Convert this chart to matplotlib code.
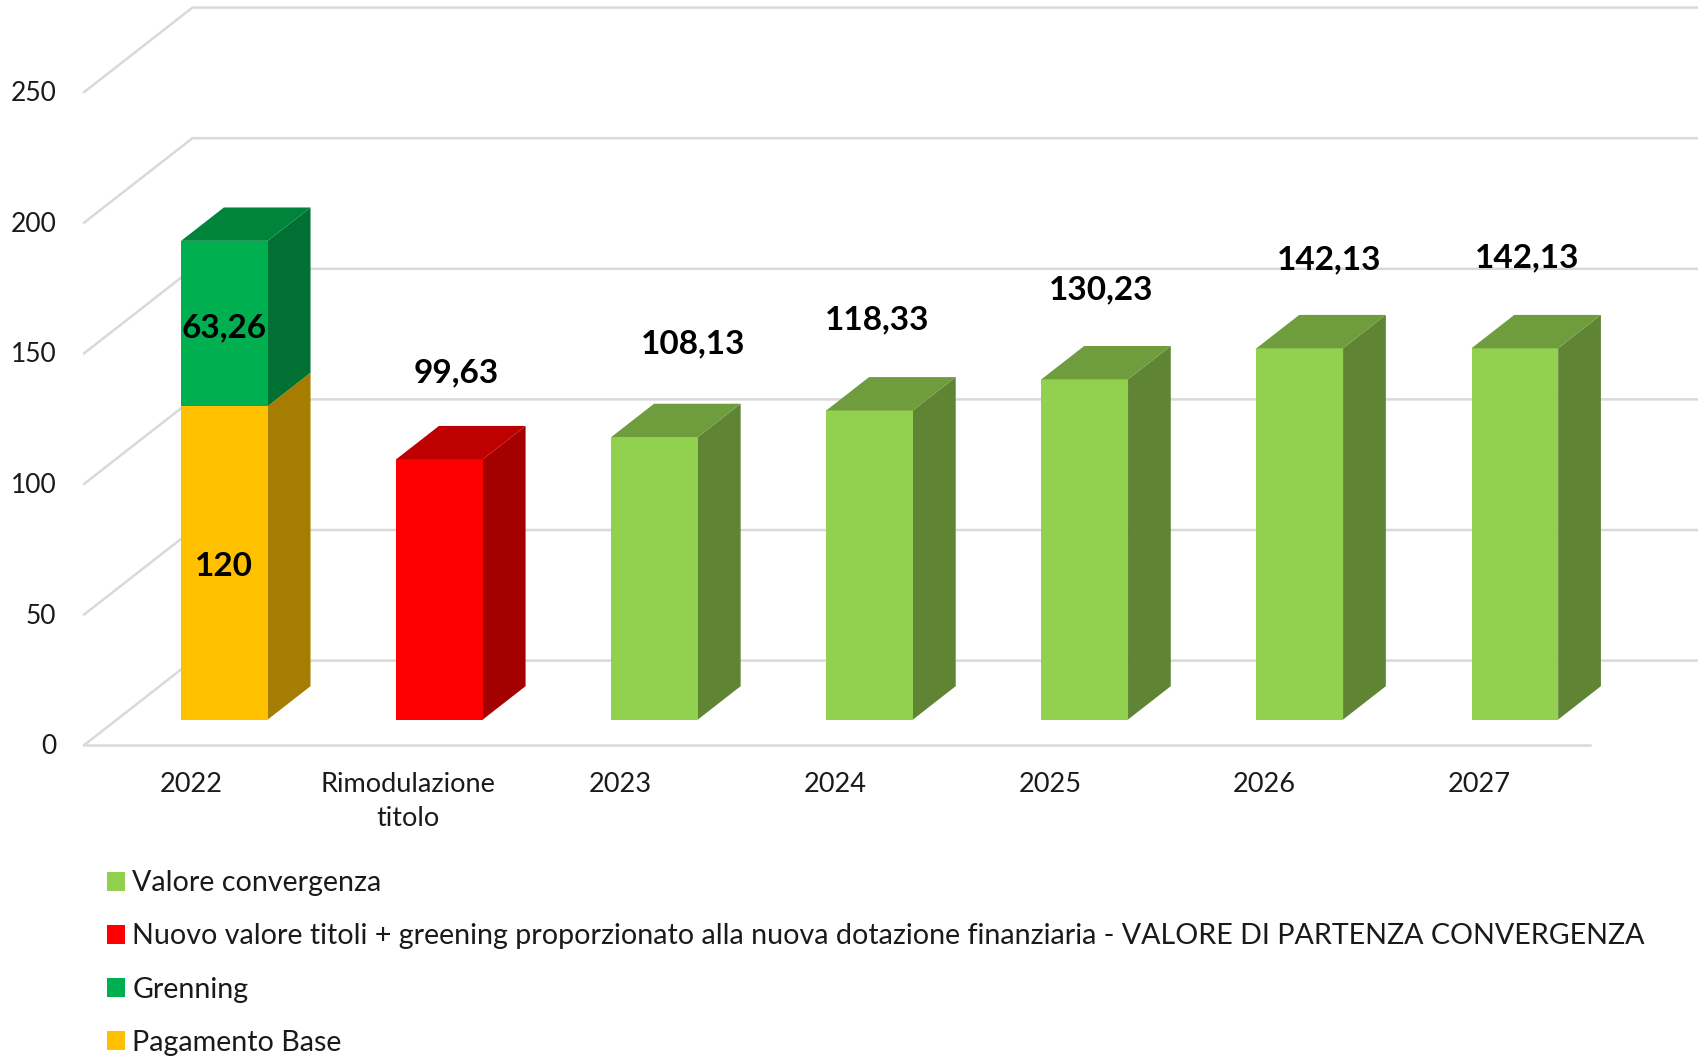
import matplotlib
matplotlib.use('Agg')
import matplotlib.pyplot as plt
from matplotlib.patches import Polygon, Patch

plt.rcParams['font.family'] = ['Lato', 'DejaVu Sans']

categorie = ['2022', 'Rimodulazione\ntitolo', '2023', '2024', '2025', '2026', '2027']
pagamento_base = [120, 0, 0, 0, 0, 0, 0]
greening = [63.26, 0, 0, 0, 0, 0, 0]
nuovo_valore = [0, 99.63, 0, 0, 0, 0, 0]
convergenza = [0, 0, 108.13, 118.33, 130.23, 142.13, 142.13]
tick_y = [0, 50, 100, 150, 200, 250]

legenda = ['Valore convergenza',
           'Nuovo valore titoli + greening proporzionato alla nuova dotazione finanziaria - VALORE DI PARTENZA CONVERGENZA',
           'Grenning',
           'Pagamento Base']

# etichette: spostamento rispetto al centro della categoria e al valore
etichette_x = [1.23, 1.332, 1.185, 1.23, 1.29, 1.21]
etichette_dy = [42.9, 45.5, 44.4, 44, 43.7, 44.3]
off_x = [0, 0.005, -0.008, -0.008, -0.01, -0.012, -0.015]

# colori: fronte, top, lato
c_base = ('#FFC000', '#FFC000', '#A67D00')
c_green = ('#00B050', '#00843C', '#007133')
c_rosso = ('#FF0000', '#BF0000', '#A50000')
c_conv = ('#92D050', '#6F9C3C', '#5F8534')

# geometria pseudo 3D: profondita' in unita' di categoria / valore
DX = 100 / 198.6
DY = 78 / 2.412
B_W = 80 / 198.6
D0 = 23.6 / 78
D1 = 54.4 / 78


def proietta(x, y, d):
    return (x + d * DX, y + d * DY)


def barra(ax, i, y0, y1, colori, top=True):
    x0 = i - 0.5 + (1 - B_W) / 2
    x1 = x0 + B_W
    fronte = [proietta(x0, y0, D0), proietta(x1, y0, D0), proietta(x1, y1, D0), proietta(x0, y1, D0)]
    lato = [proietta(x1, y0, D0), proietta(x1, y0, D1), proietta(x1, y1, D1), proietta(x1, y1, D0)]
    ax.add_patch(Polygon(lato, fc=colori[2], ec='none', zorder=3))
    ax.add_patch(Polygon(fronte, fc=colori[0], ec='none', zorder=4))
    if top:
        sopra = [proietta(x0, y1, D0), proietta(x1, y1, D0), proietta(x1, y1, D1), proietta(x0, y1, D1)]
        ax.add_patch(Polygon(sopra, fc=colori[1], ec='none', zorder=4))


fig = plt.figure(figsize=(16.98, 10.57), dpi=100)
ax = fig.add_axes([0, 0, 1, 1])
ax.set_xlim((0 - 177) / 198.6, (1568 - 177) / 198.6)
ax.set_ylim((688 - 976) / 2.412, 688 / 2.412)
ax.axis('off')

griglia = '#D9D9D9'
x_sx = -0.5
for t in tick_y:
    # parete laterale + parete di fondo
    a = proietta(x_sx, t, 0)
    b = proietta(x_sx, t, 1)
    ax.plot([a[0], b[0], 7.2], [a[1], b[1], b[1]], color=griglia, lw=1.8, zorder=1, solid_joinstyle='miter')
    ax.text(x_sx - 0.13, t - 0.6, str(t), ha='right', va='center', fontsize=19, color='#1a1a1a')
ax.plot([x_sx, 6.5], [0, 0], color=griglia, lw=1.8, zorder=1)

for i in range(len(categorie)):
    if pagamento_base[i] > 0:
        barra(ax, i, 0, pagamento_base[i], c_base, top=False)
        barra(ax, i, pagamento_base[i], pagamento_base[i] + greening[i], c_green)
    if nuovo_valore[i] > 0:
        barra(ax, i, 0, nuovo_valore[i], c_rosso)
    if convergenza[i] > 0:
        barra(ax, i, 0, convergenza[i], c_conv)

# etichette asse x
for i, c in enumerate(categorie):
    ax.text(i + off_x[i], -10.2, c, ha='center', va='top', fontsize=19.5, color='#1a1a1a', linespacing=1.47)

# etichette dati
font_val = dict(ha='center', va='center', fontsize=24, fontweight='bold', color='black', zorder=6)
ax.text(0.15, 120 + 39.8, '63,26', **font_val)
ax.text(0.15, 68.2, '120', **font_val)
valori = [99.63] + convergenza[2:]
for k, v in enumerate(valori):
    ax.text(k + etichette_x[k], v + etichette_dy[k], f'{v:.2f}'.replace('.', ','), **font_val)

maniglie = [Patch(fc=c_conv[0]), Patch(fc=c_rosso[0]), Patch(fc=c_green[0]), Patch(fc=c_base[0])]
ax.legend(maniglie, legenda, loc='lower left', bbox_to_anchor=(0.063, 0.001), frameon=False,
          fontsize=20.65, handlelength=0.64, handleheight=0.64, handletextpad=0.24, labelspacing=0.95,
          labelcolor='#1a1a1a', borderpad=0, borderaxespad=0)

fig.savefig('out.png', dpi=100)
